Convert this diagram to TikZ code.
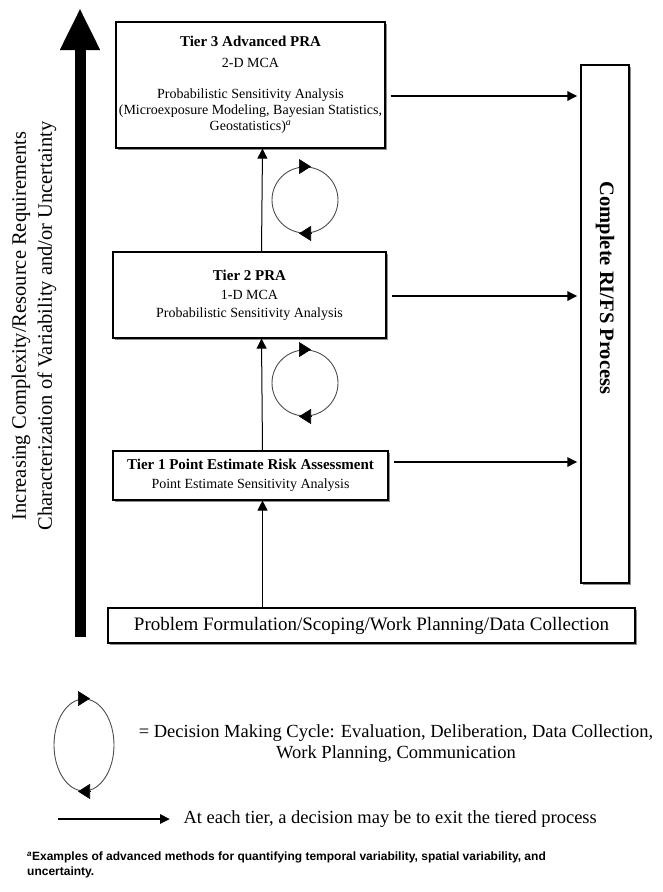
\documentclass[tikz,border=0pt]{standalone}
\usepackage{fontspec}
\setmainfont{Liberation Serif}
\newfontfamily\notefont{Liberation Sans}
\usetikzlibrary{arrows.meta,shapes.geometric,shadows}

\tikzset{
  tierbox/.style={draw, line width=1.1pt, fill=white, align=center, inner sep=0pt,
    font=\fontsize{14}{16}\selectfont,
    drop shadow={shadow xshift=1.6pt, shadow yshift=-1.6pt, fill=black!45, opacity=1}},
  upline/.style={line width=1pt, -{Triangle[length=10pt,width=10pt]}},
  exitline/.style={line width=2.6pt, shorten >=3pt, -{Triangle[length=10pt,width=9pt]}},
  cyc/.style={draw=black!70, line width=0.9pt, circle, minimum size=66pt, inner sep=0pt},
  cyctip/.style={draw=black, line width=0.6pt, -{Triangle[length=12pt,width=15pt]}},
}

\begin{document}
\begin{tikzpicture}[x=1pt,y=-1pt]
\useasboundingbox (0,0) rectangle (663,892);

%big arrow on the left
\coordinate (abot) at (80,637);
\coordinate (atop) at (80,8);
\draw[line width=11pt, -{Triangle[length=42pt,width=37pt]}] (abot) -- (atop);
\node[rotate=90, align=center, font=\fontsize{20.5}{26}\selectfont] (axis) at (34,326)
  {Increasing Complexity/Resource Requirements\\Characterization of Variability and/or Uncertainty};

%the tiers
\node[tierbox, minimum width=269pt, minimum height=126pt] (tierthree) at (250.5,85)
  {{\bfseries\fontsize{15}{16}\selectfont Tier 3 Advanced PRA}\\[5pt]
   2-D MCA\\[15pt]
   Probabilistic Sensitivity Analysis\\
   (Microexposure Modeling, Bayesian Statistics,\\
   Geostatistics)\textsuperscript{\itshape a}};
\node[tierbox, minimum width=273pt, minimum height=86pt, font=\fontsize{14}{18}\selectfont] (tiertwo) at (249.5,295)
  {{\bfseries\fontsize{15}{18}\selectfont Tier 2 PRA}\\[1pt]
   1-D MCA\\
   Probabilistic Sensitivity Analysis};
\node[tierbox, minimum width=275pt, minimum height=49pt] (tierone) at (250.5,475.5)
  {{\bfseries\fontsize{15}{16}\selectfont Tier 1 Point Estimate Risk Assessment}\\[3pt]
   Point Estimate Sensitivity Analysis};
\node[tierbox, minimum width=527pt, minimum height=35pt, font=\fontsize{19}{20}\selectfont] (problem) at (371.5,625.5)
  {Problem Formulation/Scoping/Work Planning/Data Collection};
\node[tierbox, minimum width=48pt, minimum height=518pt] (rifs) at (605,324) {};
\node[rotate=-90, font=\bfseries\fontsize{20.5}{22}\selectfont] (rifstext) at (605,288) {Complete RI/FS Process};

%moving up a tier
\draw[upline] ([xshift=12pt]problem.north -| tierone.north) -- ([xshift=12pt]tierone.south);
\draw[upline] ([xshift=12pt]tierone.north) -- ([xshift=12pt]tiertwo.south);
\draw[upline] ([xshift=12pt]tiertwo.north) -- ([xshift=12pt]tierthree.south);

%decision cycles
\node[cyc] (cycone) at (305,383) {};
\node[cyc] (cyctwo) at (305,200) {};
\foreach \c in {cycone,cyctwo}{
  \draw[cyctip] ([xshift=-6pt]\c.north) -- ([xshift=6pt]\c.north);
  \draw[cyctip] ([xshift=6pt]\c.south) -- ([xshift=-6pt]\c.south);
}

%exits
\coordinate (ethree) at ([xshift=5pt,yshift=-11pt]tierthree.east);
\coordinate (etwo) at ([xshift=5pt,yshift=-1pt]tiertwo.east);
\coordinate (eone) at ([xshift=5pt,yshift=13.5pt]tierone.east);
\draw[exitline] (ethree) -- (ethree -| rifs.west);
\draw[exitline] (etwo) -- (etwo -| rifs.west);
\draw[exitline] (eone) -- (eone -| rifs.west);

%legend
\node[cyc, ellipse, minimum width=60pt, minimum height=92pt] (cyckey) at (84,745) {};
\draw[cyctip] ([xshift=-6pt]cyckey.north) -- ([xshift=6pt]cyckey.north);
\draw[cyctip] ([xshift=6pt]cyckey.south) -- ([xshift=-6pt]cyckey.south);
\node[align=center, font=\fontsize{18.5}{21}\selectfont] (cyctext) at (396,744)
  {= Decision Making Cycle: Evaluation, Deliberation, Data Collection,\\Work Planning, Communication};

\coordinate (keyl) at (58,819);
\coordinate (keyr) at (170,819);
\draw[exitline, shorten >=0pt] (keyl) -- (keyr);
\node[anchor=west, font=\fontsize{18.5}{21}\selectfont] (exittext) at (180,819)
  {At each tier, a decision may be to exit the tiered process};

%footnote
\node[anchor=north west, align=left, inner sep=0pt, font=\notefont\bfseries\fontsize{12}{15}\selectfont] (note) at (27,852)
  {\textsuperscript{\itshape a}Examples of advanced methods for quantifying temporal variability, spatial variability, and\\uncertainty.};
\end{tikzpicture}
\end{document}
